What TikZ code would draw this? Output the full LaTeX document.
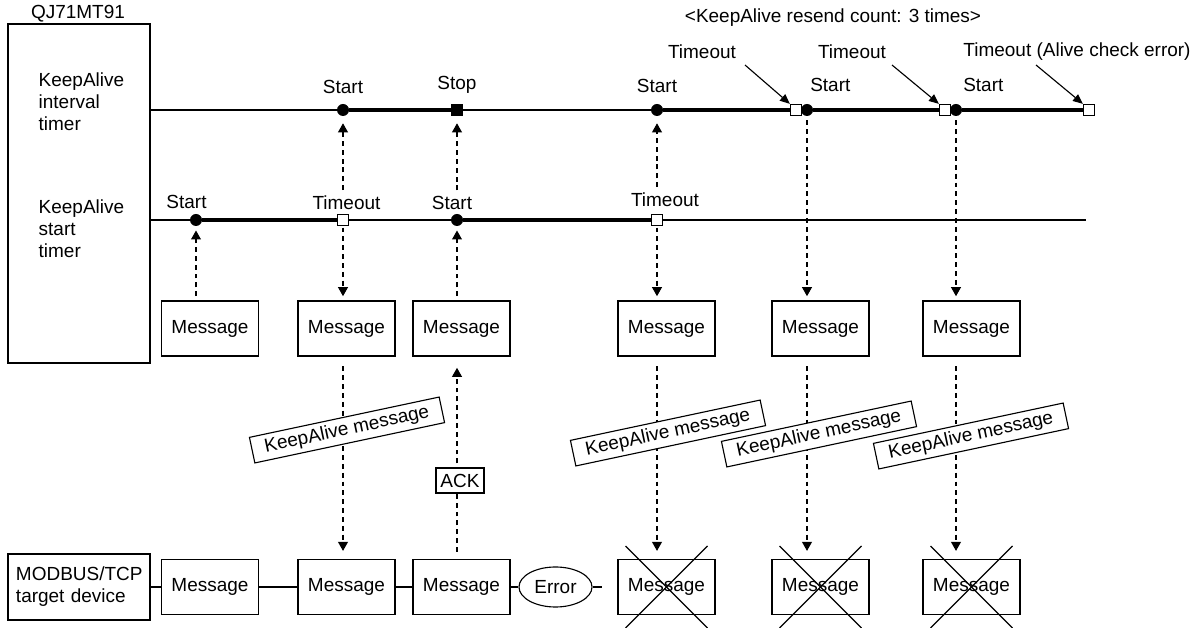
\documentclass[tikz,border=0pt]{standalone}
\usepackage{fontspec}
\setmainfont{Liberation Sans}
\usetikzlibrary{arrows.meta, positioning, shapes.geometric, backgrounds}

\tikzset{
  msgbox/.style={draw, line width=0.8pt, minimum width=2.425cm, minimum height=1.375cm, inner sep=0pt},
  kamsg/.style={draw, fill=white, line width=0.8pt, rotate=12, inner xsep=9.3pt, inner ysep=3pt},
  startdot/.style={circle, fill=black, inner sep=0pt, minimum size=0.3cm},
  toutsq/.style={rectangle, draw, fill=white, line width=0.8pt, inner sep=0pt, minimum size=0.28cm},
  stopsq/.style={rectangle, fill=black, inner sep=0pt, minimum size=0.3cm},
  thinln/.style={line width=1.1pt},
  thickln/.style={line width=3pt},
  lnk/.style={line width=1.3pt},
  crossx/.style={line width=0.8pt},
  dasharr/.style={line width=0.8pt, dash pattern=on 3.5pt off 2.8pt, -{Triangle[length=6.4pt, width=7pt]}},
  ptr/.style={line width=0.8pt, -{Triangle[length=7pt, width=6pt]}}
}

\begin{document}
\begin{tikzpicture}[x=0.025cm, y=-0.025cm, font=\fontsize{13.5}{15.6}\selectfont, inner sep=1pt]
        \useasboundingbox (0,0) rectangle (1199,628);

        % QJ71MT91 side
        \node[draw, line width=0.8pt, minimum width=3.55cm, minimum height=8.475cm, inner sep=0pt] (qj) at (79,193.5) {};
        \node (qjname) at (78,14) {QJ71MT91};
        \node[anchor=west, align=left] (intname) at (37,102) {KeepAlive\\interval\\timer};
        \node[anchor=west, align=left] (stname) at (37,229) {KeepAlive\\start\\timer};

        % interval timer marks
        \node[startdot] (ic1) at (343,110) {};
        \node[stopsq] (stop) at (457,110) {};
        \node[startdot] (ic2) at (657,110) {};
        \node[toutsq] (it1) at (796,110) {};
        \node[startdot] (ic3) at (807,110) {};
        \node[toutsq] (it2) at (945,110) {};
        \node[startdot] (ic4) at (956,110) {};
        \node[toutsq] (it3) at (1089,110) {};

        \node[above=0.22cm of ic1] (ic1lbl) {Start};
        \node[above=0.22cm of stop] (stoplbl) {Stop};
        \node[above=0.23cm of ic2] (ic2lbl) {Start};
        \node[anchor=west] (ic3lbl) at (808.6,85) {Start};
        \node[anchor=west] (ic4lbl) at (961.6,85) {Start};

        \node (resend) at (833,18) {<KeepAlive resend count: 3 times>};
        \node (to1lbl) at (702,52) {Timeout};
        \node (to2lbl) at (852,52) {Timeout};
        \node (to3lbl) at (1077,52) {Timeout (Alive check error)};
        \coordinate (p1) at (745,65);
        \coordinate (p2) at (892,65);
        \coordinate (p3) at (1036,65);

        % start timer marks
        \node[startdot] (sc1) at (196,220) {};
        \node[toutsq] (st1) at (343,220) {};
        \node[startdot] (sc2) at (457,220) {};
        \node[toutsq] (st2) at (657,220) {};
        \coordinate (send) at (1086,220);

        \node (sc1lbl) at (186.5,202) {Start};
        \node (st1lbl) at (346.5,203) {Timeout};
        \node (sc2lbl) at (452,203) {Start};
        \node (st2lbl) at (665,200) {Timeout};

        % messages of QJ71MT91
        \node[msgbox] (m1) at (210,328.5) {Message};
        \node[msgbox] (m2) at (346.5,328.5) {Message};
        \node[msgbox] (m3) at (461.5,328.5) {Message};
        \node[msgbox] (m4) at (666.5,328.5) {Message};
        \node[msgbox] (m5) at (820.5,328.5) {Message};
        \node[msgbox] (m6) at (971.5,328.5) {Message};

        % target device
        \node[draw, line width=0.8pt, minimum width=3.55cm, minimum height=1.65cm, inner sep=0.2cm, text width=3.15cm, align=left] (dev) at (79,587) {MODBUS/TCP\\target device};
        \node[msgbox] (n1) at (210,587) {Message};
        \node[msgbox] (n2) at (346.5,587) {Message};
        \node[msgbox] (n3) at (461.5,587) {Message};
        \node[ellipse, draw, line width=0.8pt, minimum width=1.825cm, minimum height=1cm, inner sep=0pt] (err) at (555.5,587) {Error};
        \coordinate (stub) at (602,587);
        \node[msgbox] (n4) at (666.5,587) {Message};
        \node[msgbox] (n5) at (820.5,587) {Message};
        \node[msgbox] (n6) at (971.5,587) {Message};

        % crossed out messages
        \foreach \n in {n4,n5,n6} {
            \draw[crossx] (\n.center) ++(-41,-41) -- ++(82,82);
            \draw[crossx] (\n.center) ++(41,-41) -- ++(-82,82);
        }

        % labels on the dashed lines
        \node[kamsg] (ka1) at (347,430) {KeepAlive message};
        \node[kamsg] (ka2) at (668,433) {KeepAlive message};
        \node[kamsg] (ka3) at (819,434) {KeepAlive message};
        \node[kamsg] (ka4) at (971,436) {KeepAlive message};
        \node[draw, fill=white, line width=0.8pt, minimum width=1.2cm, minimum height=0.625cm, inner sep=0pt] (ack) at (460,480.5) {ACK};

        \begin{scope}[on background layer]
            % timer lines
            \draw[thinln] (qj.east |- ic1) -- (it3);
            \draw[thinln] (qj.east |- sc1) -- (send);
            \draw[thickln] (ic1) -- (stop);
            \draw[thickln] (ic2) -- (it1);
            \draw[thickln] (ic3) -- (it2);
            \draw[thickln] (ic4) -- (it3);
            \draw[thickln] (sc1) -- (st1);
            \draw[thickln] (sc2) -- (st2);

            % device links
            \draw[lnk] (dev) -- (n1);
            \draw[lnk] (n1) -- (n2);
            \draw[lnk] (n2) -- (n3);
            \draw[lnk] (n3) -- (err);
            \draw[lnk] (err) -- (stub);

            % dashed arrows
            \draw[dasharr, shorten <=3pt, shorten >=3pt] (sc1 |- m1.north) -- (sc1);
            \draw[dasharr, shorten <=1pt, shorten >=3pt] (st1) -- (st1 |- m2.north);
            \draw[dasharr, shorten <=3pt, shorten >=5pt] (ic1 |- st1lbl.north) -- (ic1);
            \draw[dasharr, shorten <=3pt, shorten >=3pt] (sc2 |- m3.north) -- (sc2);
            \draw[dasharr, shorten <=3pt, shorten >=5pt] (sc2 |- sc2lbl.north) -- (stop);
            \draw[dasharr, shorten <=1pt, shorten >=3pt] (st2) -- (st2 |- m4.north);
            \draw[dasharr, shorten <=3pt, shorten >=5pt] (ic2 |- st2lbl.north) -- (ic2);
            \draw[dasharr, shorten <=3pt, shorten >=3pt] (ic3) -- (ic3 |- m5.north);
            \draw[dasharr, shorten <=3pt, shorten >=3pt] (ic4) -- (ic4 |- m6.north);

            \draw[dasharr, shorten <=7pt, shorten >=5.7pt] (st1 |- m2.south) -- (st1 |- n2.north);
            \draw[dasharr, shorten <=5pt, shorten >=8pt] (sc2 |- n3.north) -- (sc2 |- m3.south);
            \draw[dasharr, shorten <=7pt, shorten >=5.7pt] (st2 |- m4.south) -- (st2 |- n4.north);
            \draw[dasharr, shorten <=7pt, shorten >=5.7pt] (ic3 |- m5.south) -- (ic3 |- n5.north);
            \draw[dasharr, shorten <=7pt, shorten >=5.7pt] (ic4 |- m6.south) -- (ic4 |- n6.north);
        \end{scope}

        % timeout pointers
        \draw[ptr] (p1) -- (it1.north west);
        \draw[ptr] (p2) -- (it2.north west);
        \draw[ptr] (p3) -- (it3.north west);
    \end{tikzpicture}
\end{document}
